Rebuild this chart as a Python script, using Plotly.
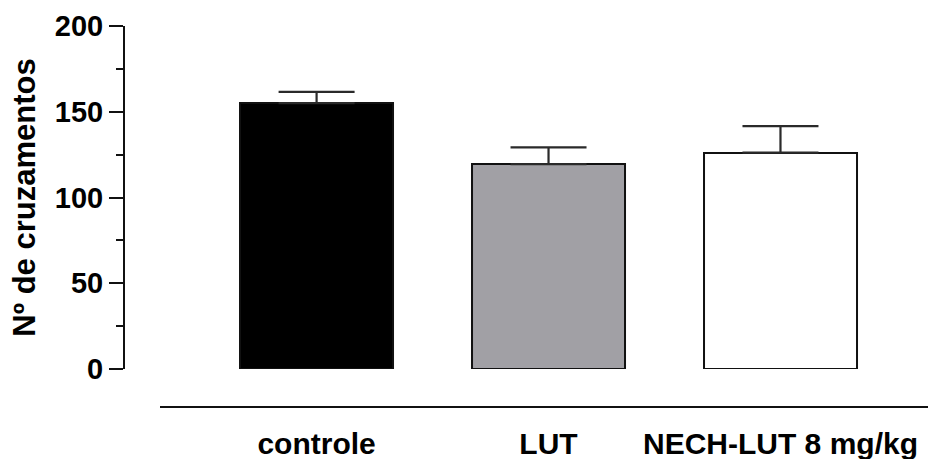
import plotly.graph_objects as go

categories = ["controle", "LUT", "NECH-LUT 8 mg/kg"]
means = [155.0, 119.5, 126.2]
errors_up = [6.6, 9.7, 15.4]
fills = ["#000000", "#a1a0a5", "#ffffff"]

y_ticks = [0, 50, 100, 150, 200]

FONT = "Arial, Liberation Sans, Helvetica, sans-serif"

fig = go.Figure()
fig.add_trace(go.Bar(
    x=list(range(len(categories))),
    y=means,
    width=0.66,
    marker=dict(color=fills, line=dict(color="#111111", width=2)),
    error_y=dict(type="data", array=errors_up, arrayminus=[0] * len(means),
                 symmetric=False, color="#2a2a2a", thickness=2.2, width=38),
    showlegend=False,
))

fig.update_layout(
    width=928, height=459,
    margin=dict(l=124, r=0, t=26, b=52),
    paper_bgcolor="white", plot_bgcolor="white",
    font=dict(family=FONT, color="black"),
    bargap=0,
    xaxis=dict(
        domain=[0.0448, 1],
        range=[-0.675, 2.636],
        tickmode="array",
        tickvals=list(range(len(categories))),
        ticktext=categories,
        tickfont=dict(size=30, family=FONT, weight="bold", color="black"),
        showline=True, linecolor="#111111", linewidth=2,
        ticks="", showgrid=False, zeroline=False,
        anchor="free", position=0,
        ticklabelstandoff=10,
        automargin=False,
    ),
    yaxis=dict(
        domain=[0.0997, 1],
        range=[0, 200],
        tickvals=y_ticks,
        tickfont=dict(size=29, family=FONT, weight="bold", color="black"),
        showline=True, linecolor="#111111", linewidth=2,
        ticks="outside", ticklen=14, tickwidth=2, tickcolor="#111111",
        minor=dict(dtick=25, ticks="outside", ticklen=7, tickwidth=2,
                   tickcolor="#111111", showgrid=False),
        showgrid=False, zeroline=False,
        anchor="free", position=0,
        automargin=False,
        title=dict(text="Nº de cruzamentos", standoff=9,
                   font=dict(size=31, family=FONT, weight="bold", color="black")),
    ),
)

fig.write_html(
    "out.html",
    config={"displayModeBar": False},
    post_script="document.body.style.margin='0';document.body.style.overflow='hidden';",
)
